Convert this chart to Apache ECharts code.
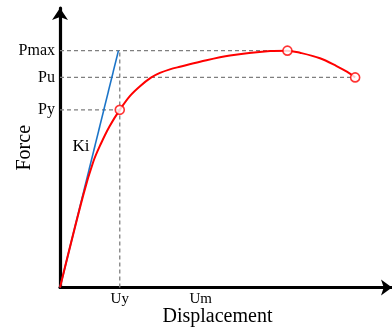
<!DOCTYPE html>
<html>
<head>
<meta charset="utf-8">
<script src="https://cdn.jsdelivr.net/npm/echarts@6/dist/echarts.min.js"></script>
<style>
  html, body { margin: 0; padding: 0; background: #fff; }
  #chart { width: 392px; height: 329px; }
</style>
</head>
<body>
<div id="chart"></div>
<script>
// Force–displacement (pushover) curve with characteristic points
const dispValues  = [0, 7.0, 10.0, 12.35, 14.9, 18.0, 21.1, 24.1, 27.4, 30.1, 33.1, 36.1, 42.2, 51.2, 63.3, 68.5, 72.3, 78.3, 83.3, 86.4, 88.9];
const forceValues = [0, 39.0, 53.0, 60.8, 68.0, 75.0, 80.9, 85.0, 88.6, 90.6, 92.1, 93.2, 95.3, 97.9, 99.8, 100, 99.1, 96.8, 93.5, 91.1, 88.7];

// Characteristic values
const Uy = 18.0, Um = 42.4, UPmax = 68.5, Uend = 88.9;
const Py = 75.0, Pu = 88.7, Pmax = 100;
const kiEnd = [17.6, 100];            // initial stiffness line end
const kiLabelAt = [6.3, 59.7];

const xTickValues = [Uy, Um];
const xTickLabels = ['Uy', 'Um'];
const yTickValues = [Py, Pu, Pmax];
const yTickLabels = ['Py', 'Pu', 'Pmax'];

const serif = 'Liberation Serif';
const curve = dispValues.map((d, i) => [d, forceValues[i]]);

const dashStyle = { color: '#7f7f7f', width: 1.3, type: [4, 3] };
function dashed(points) {
  return { type: 'line', data: points, symbol: 'none', lineStyle: dashStyle,
           silent: true, animation: false, z: 1 };
}

const chart = echarts.init(document.getElementById('chart'), null, { renderer: 'canvas' });
chart.setOption({
  animation: false,
  grid: { left: 60, right: 0, top: 8, bottom: 41.5, containLabel: false, outerBoundsMode: 'none' },
  xAxis: {
    type: 'value', min: 0, max: 100,
    name: 'Displacement', nameLocation: 'middle', nameGap: 19, nameMoveOverlap: false,
    nameTextStyle: { fontFamily: serif, fontSize: 20, color: '#000', padding: [0, 17, 0, 0] },
    axisLine: { show: true, lineStyle: { color: '#000', width: 3.2 },
                symbol: ['none', 'arrow'], symbolSize: [12, 11] },
    axisTick: { show: false },
    splitLine: { show: false },
    axisLabel: {
      customValues: xTickValues,
      formatter: v => xTickLabels[xTickValues.indexOf(v)],
      fontFamily: serif, fontSize: 15, color: '#000', margin: 4
    }
  },
  yAxis: {
    type: 'value', min: 0, max: 118,
    name: 'Force', nameLocation: 'middle', nameGap: 25, nameRotate: 90, nameMoveOverlap: false,
    nameTextStyle: { fontFamily: serif, fontSize: 20, color: '#000' },
    axisLine: { show: true, lineStyle: { color: '#000', width: 3.2 },
                symbol: ['none', 'arrow'], symbolSize: [12, 12] },
    axisTick: { show: false },
    splitLine: { show: false },
    axisLabel: {
      customValues: yTickValues,
      formatter: v => yTickLabels[yTickValues.indexOf(v)],
      fontFamily: serif, fontSize: 16, color: '#000', margin: 5
    }
  },
  series: [
    dashed([[0, Pmax], [UPmax, Pmax]]),
    dashed([[0, Pu], [Uend, Pu]]),
    dashed([[0, Py], [Uy, Py]]),
    dashed([[Uy, 0], [Uy, Pmax]]),
    {
      type: 'line', data: [[0, 0], kiEnd], symbol: 'none',
      lineStyle: { color: '#1b74c8', width: 1.6 }, z: 2,
      markPoint: {
        symbol: 'circle', symbolSize: 0,
        data: [{ coord: kiLabelAt, value: 'Ki' }],
        label: { show: true, formatter: 'Ki', fontFamily: serif, fontSize: 17, color: '#000' }
      }
    },
    {
      type: 'line', data: curve, symbol: 'none', smooth: 0.35,
      lineStyle: { color: '#ff0000', width: 2 }, z: 3
    },
    {
      type: 'scatter', data: [[Uy, Py], [UPmax, Pmax], [Uend, Pu]],
      symbol: 'circle', symbolSize: 9,
      itemStyle: { color: '#fff', borderColor: '#ff0000', borderWidth: 1.6 }, z: 4
    }
  ]
});
</script>
</body>
</html>
